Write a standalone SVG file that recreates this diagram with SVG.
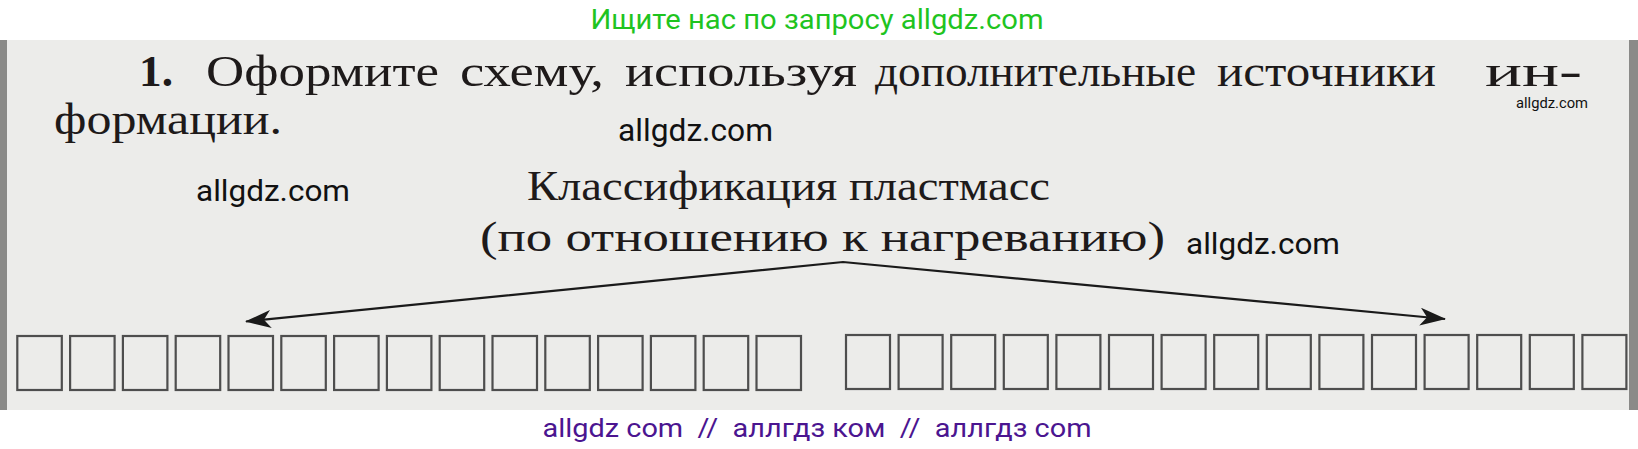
<svg xmlns="http://www.w3.org/2000/svg" width="1638" height="449" viewBox="0 0 1638 449">
<defs>
<style>
.page{fill:#ececea}
.edge{fill:#8a8a88}
.bk{font-family:"Liberation Serif","DejaVu Serif",serif;fill:#1e1a1a}
.l1{font-size:44px}
.t{font-size:42px}
.wm{font-family:Roboto,"Liberation Sans",sans-serif;fill:#111}
.box{fill:none;stroke:#4e4e4e;stroke-width:2.2}
.conn{fill:none;stroke:#1a1a1a;stroke-width:2.2}
</style>
<marker id="ah" viewBox="0 0 26 18" refX="25" refY="9" markerWidth="26" markerHeight="18" markerUnits="userSpaceOnUse" orient="auto-start-reverse">
<path d="M0,0 L26,9 L0,18 L7,9 Z" fill="#1a1a1a"/>
</marker>
</defs>
<rect x="0" y="0" width="1638" height="449" fill="#ffffff"/>
<text x="817" y="29" text-anchor="middle" font-family="Roboto,'Liberation Sans',sans-serif" font-size="28" fill="#1fc41f" textLength="453" lengthAdjust="spacingAndGlyphs">Ищите нас по запросу allgdz.com</text>
<g id="page">
<rect class="page" x="0" y="40" width="1638" height="370"/>
<rect class="edge" x="0" y="40" width="7" height="370"/>
<rect class="edge" x="1629" y="40" width="9" height="370"/>
</g>
<g id="task">
<text class="bk l1" x="139" y="86" font-weight="bold" textLength="34" lengthAdjust="spacingAndGlyphs">1.</text>
<text class="bk l1" x="206" y="86" textLength="233" lengthAdjust="spacingAndGlyphs">Оформите</text>
<text class="bk l1" x="460" y="86" textLength="144" lengthAdjust="spacingAndGlyphs">схему,</text>
<text class="bk l1" x="625" y="86" textLength="232" lengthAdjust="spacingAndGlyphs">используя</text>
<text class="bk l1" x="875" y="86" textLength="321" lengthAdjust="spacingAndGlyphs">дополнительные</text>
<text class="bk l1" x="1217" y="86" textLength="219" lengthAdjust="spacingAndGlyphs">источники</text>
<text class="bk l1" x="1485" y="86" textLength="97" lengthAdjust="spacingAndGlyphs">ин-</text>
<text class="bk l1" x="54" y="134" textLength="228" lengthAdjust="spacingAndGlyphs">формации.</text>
</g>
<g id="title">
<text class="bk t" x="527" y="200" textLength="523" lengthAdjust="spacingAndGlyphs">Классификация пластмасс</text>
<text class="bk t" x="480" y="251" textLength="685" lengthAdjust="spacingAndGlyphs">(по отношению к нагреванию)</text>
</g>
<g id="watermarks">
<text class="wm" x="1516" y="108" font-size="14" textLength="72" lengthAdjust="spacingAndGlyphs">allgdz.com</text>
<text class="wm" x="618" y="141" font-size="32" textLength="155" lengthAdjust="spacingAndGlyphs">allgdz.com</text>
<text class="wm" x="196" y="201" font-size="30" textLength="154" lengthAdjust="spacingAndGlyphs">allgdz.com</text>
<text class="wm" x="1186" y="254" font-size="30" textLength="154" lengthAdjust="spacingAndGlyphs">allgdz.com</text>
</g>
<g id="connectors">
<polyline class="conn" points="246,321.5 843,262 1445,319" marker-start="url(#ah)" marker-end="url(#ah)"/>
</g>
<g id="boxes-left">
<rect class="box" x="17.3" y="336" width="44.5" height="54"/>
<rect class="box" x="70.1" y="336" width="44.5" height="54"/>
<rect class="box" x="122.9" y="336" width="44.5" height="54"/>
<rect class="box" x="175.7" y="336" width="44.5" height="54"/>
<rect class="box" x="228.5" y="336" width="44.5" height="54"/>
<rect class="box" x="281.3" y="336" width="44.5" height="54"/>
<rect class="box" x="334.1" y="336" width="44.5" height="54"/>
<rect class="box" x="386.9" y="336" width="44.5" height="54"/>
<rect class="box" x="439.7" y="336" width="44.5" height="54"/>
<rect class="box" x="492.5" y="336" width="44.5" height="54"/>
<rect class="box" x="545.3" y="336" width="44.5" height="54"/>
<rect class="box" x="598.1" y="336" width="44.5" height="54"/>
<rect class="box" x="650.9" y="336" width="44.5" height="54"/>
<rect class="box" x="703.7" y="336" width="44.5" height="54"/>
<rect class="box" x="756.5" y="336" width="44.5" height="54"/>
</g>
<g id="boxes-right">
<rect class="box" x="846" y="335" width="44" height="54"/>
<rect class="box" x="898.6" y="335" width="44" height="54"/>
<rect class="box" x="951.2" y="335" width="44" height="54"/>
<rect class="box" x="1003.8" y="335" width="44" height="54"/>
<rect class="box" x="1056.4" y="335" width="44" height="54"/>
<rect class="box" x="1109" y="335" width="44" height="54"/>
<rect class="box" x="1161.6" y="335" width="44" height="54"/>
<rect class="box" x="1214.2" y="335" width="44" height="54"/>
<rect class="box" x="1266.8" y="335" width="44" height="54"/>
<rect class="box" x="1319.4" y="335" width="44" height="54"/>
<rect class="box" x="1372" y="335" width="44" height="54"/>
<rect class="box" x="1424.6" y="335" width="44" height="54"/>
<rect class="box" x="1477.2" y="335" width="44" height="54"/>
<rect class="box" x="1529.8" y="335" width="44" height="54"/>
<rect class="box" x="1582.4" y="335" width="44" height="54"/>
</g>
<text x="817" y="437" text-anchor="middle" font-family="Roboto,'Liberation Sans',sans-serif" font-size="26" fill="#4b1590" textLength="549" lengthAdjust="spacingAndGlyphs" xml:space="preserve">allgdz com  //  аллгдз ком  //  аллгдз com</text>
</svg>
